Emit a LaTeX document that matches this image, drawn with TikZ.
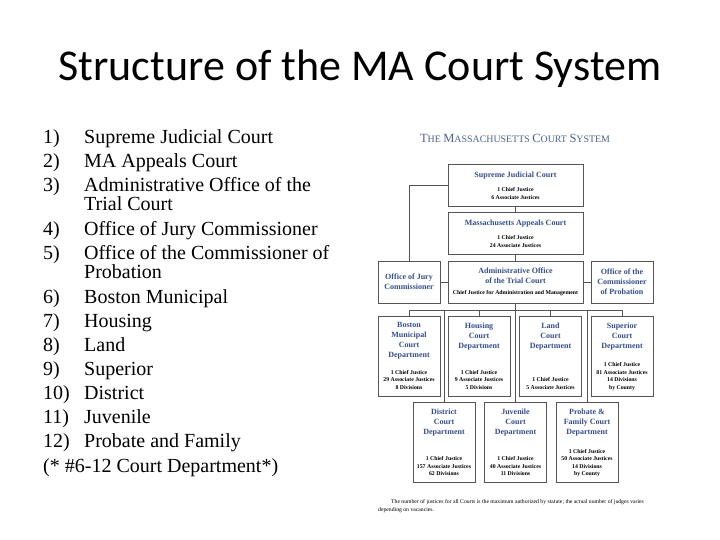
\documentclass[tikz,border=0pt]{standalone}
\usepackage{fontspec}
\setmainfont{Liberation Serif}
\newfontfamily\slidefont{Carlito}
\usetikzlibrary{positioning}
\definecolor{courtblue}{RGB}{52,78,150}
\definecolor{chartslate}{RGB}{78,98,148}
\definecolor{boxgray}{RGB}{85,85,85}
\newcommand{\capword}[2]{{\fontsize{12.5}{14}\selectfont #1}{\fontsize{9.9}{14}\selectfont #2}}

\begin{document}
\begin{tikzpicture}[
    x=1pt, y=-1pt,
    court/.style={draw=boxgray, line width=0.9pt, inner sep=0pt, minimum width=62pt},
    wide/.style={court, minimum width=135pt, minimum height=42pt},
    office/.style={court, minimum height=42pt, font=\fontsize{8}{10}\selectfont\bfseries, text=courtblue, align=center},
    dept/.style={court, minimum height=80pt},
    head/.style={font=\fontsize{8}{10}\selectfont\bfseries, text=courtblue, align=center, inner sep=0pt},
    info/.style={font=\fontsize{5.8}{7.5}\selectfont\bfseries, align=center, inner sep=0pt},
    item/.style={font=\fontsize{20}{24}\selectfont, anchor=base west, inner sep=0pt},
    note/.style={font=\fontsize{5.7}{7.5}\selectfont, anchor=base west, inner sep=0pt},
    wire/.style={draw=boxgray, line width=0.9pt}
]
\fill[white] (0,0) rectangle (720,540);
\useasboundingbox (0,0) rectangle (720,540);

% slide title
\node[font=\slidefont\fontsize{44}{52}\selectfont, anchor=base, inner sep=0pt] (title) at (360,81) {Structure of the MA Court System};

% numbered list
\foreach \txt/\y [count=\i] in {Supreme Judicial Court/144, MA Appeals Court/168,
    Administrative Office of the/192, Office of Jury Commissioner/236,
    Office of the Commissioner of/259, Boston Municipal/303, Housing/327,
    Land/351, Superior/375, District/399, Juvenile/423, Probate and Family/447}
{
  \node[item] (num\i) at (43,\y) {\i)};
  \node[item] (entry\i) at (84,\y) {\txt};
}
\node[item] (entry3b) at (84,211) {Trial Court};
\node[item] (entry5b) at (84,278) {Probation};
\node[item] (footer) at (43,472) {(* \#6-12 Court Department*)};

% chart
\node[text=chartslate, inner sep=0pt] (chartname) at (515,138)
  {\capword{T}{HE} \capword{M}{ASSACHUSETTS} \capword{C}{OURT} \capword{S}{YSTEM}};

\node[wide] (sjc) at (515.5,185) {};
\node[head, below=8pt of sjc.north] (sjchead) {Supreme Judicial Court};
\node[info, above=7pt of sjc.south] (sjcinfo) {1 Chief Justice\\6 Associate Justices};

\node[wide] (appeals) at (515.5,233) {};
\node[head, below=8pt of appeals.north] (appealshead) {Massachusetts Appeals Court};
\node[info, above=7pt of appeals.south] (appealsinfo) {1 Chief Justice\\24 Associate Justices};

\node[wide] (admin) at (515.5,282) {};
\node[head, below=7pt of admin.north] (adminhead) {Administrative Office\\of the Trial Court};
\node[info, above=7pt of admin.south] (admininfo) {Chief Justice for Administration and Management};

\node[office] (jury) at (409,282) {Office of Jury\\Commissioner};
\node[office] (probation) at (622,282) {Office of the\\Commissioner\\of Probation};

% upper row of departments
\node[dept] (boston) at (409,356) {};
\node[head, below=7pt of boston.north] (bostonhead) {Boston\\Municipal\\Court\\Department};
\node[info, above=7pt of boston.south] (bostoninfo) {1 Chief Justice\\29 Associate Justices\\8 Divisions};

\node[dept] (housing) at (479,356) {};
\node[head, below=7pt of housing.north] (housinghead) {Housing\\Court\\Department};
\node[info, above=7pt of housing.south] (housinginfo) {1 Chief Justice\\9 Associate Justices\\5 Divisions};

\node[dept] (land) at (550.5,356) {};
\node[head, below=7pt of land.north] (landhead) {Land\\Court\\Department};
\node[info, above=7pt of land.south] (landinfo) {1 Chief Justice\\5 Associate Justices};

\node[dept] (superior) at (622,356) {};
\node[head, below=7pt of superior.north] (superiorhead) {Superior\\Court\\Department};
\node[info, above=6pt of superior.south] (superiorinfo) {1 Chief Justice\\81 Associate Justices\\14 Divisions\\by County};

% lower row of departments
\node[dept] (district) at (444,442.5) {};
\node[head, below=7pt of district.north] (districthead) {District\\Court\\Department};
\node[info, above=7pt of district.south] (districtinfo) {1 Chief Justice\\157 Associate Justices\\62 Divisions};

\node[dept] (juvenile) at (515.5,442.5) {};
\node[head, below=7pt of juvenile.north] (juvenilehead) {Juvenile\\Court\\Department};
\node[info, above=7pt of juvenile.south] (juvenileinfo) {1 Chief Justice\\40 Associate Justices\\11 Divisions};

\node[dept] (probate) at (587,442.5) {};
\node[head, below=7pt of probate.north] (probatehead) {Probate \&\\Family Court\\Department};
\node[info, above=6pt of probate.south] (probateinfo) {1 Chief Justice\\50 Associate Justices\\14 Divisions\\by County};

% connectors
\draw[wire] (jury.north) |- (sjc.west);
\draw[wire] (sjc.south) -- (appeals.north);
\draw[wire] (appeals.south) -- (admin.north);
\draw[wire] (jury.east) -- (admin.west);
\draw[wire] (admin.east) -- (probation.west);
\coordinate (busline) at (515.5,310);
\draw[wire] (admin.south) -- (busline);
\draw[wire] (boston.north) -- (boston.north |- busline) -- (superior.north |- busline) -- (superior.north);
\foreach \d in {housing,land,district,juvenile,probate}
  \draw[wire] (\d.north |- busline) -- (\d.north);

% footnote
\node[note] (note1) at (391,503.5) {The number of justices for all Courts is the maximum authorized by statute; the actual number of judges varies};
\node[note] (note2) at (378,511) {depending on vacancies.};
\end{tikzpicture}
\end{document}
